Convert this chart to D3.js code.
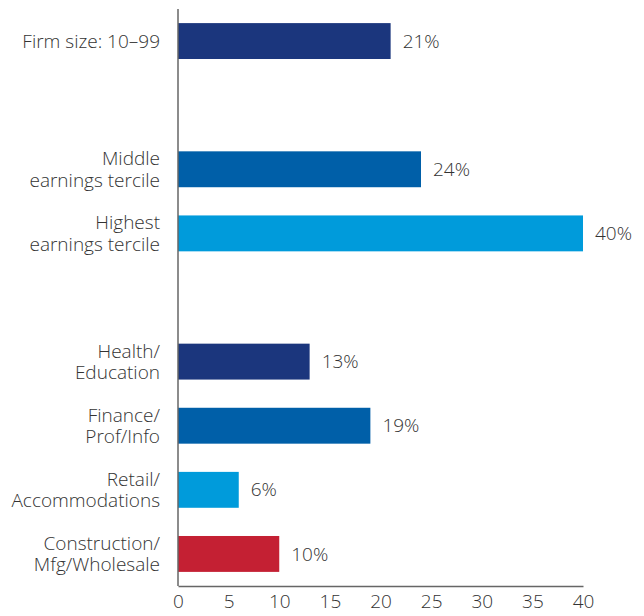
<!DOCTYPE html>
<html>
<head>
<meta charset="utf-8">
<script src="https://cdn.jsdelivr.net/npm/d3@7"></script>
<style>
  html, body { margin: 0; padding: 0; background: #fff; }
  svg text { font-family: "Open Sans", "Noto Sans", sans-serif; font-weight: 300; fill: #333; }
</style>
</head>
<body>
<div id="chart"></div>
<script>
"use strict";

// rows, top to bottom; "gap" rows are empty slots between groups
var rows = ["firm", "gap1", "mid", "high", "gap2", "health", "finance", "retail", "constr"];
var categories = ["firm", "mid", "high", "health", "finance", "retail", "constr"];
var labels = [
    ["Firm size: 10–99"],
    ["Middle", "earnings tercile"],
    ["Highest", "earnings tercile"],
    ["Health/", "Education"],
    ["Finance/", "Prof/Info"],
    ["Retail/", "Accommodations"],
    ["Construction/", "Mfg/Wholesale"]
];
var values = [21, 24, 40, 13, 19, 6, 10];
var barColors = ["#1b367d", "#005fa8", "#009bdb", "#1b367d", "#005fa8", "#009bdb", "#c42033"];
var xTicks = [0, 5, 10, 15, 20, 25, 30, 35, 40];

var width = 644, height = 616;
var x0 = 178, x1 = 583, yTop = 9, yBottom = 586;
var fontSize = "19px";

var data = categories.map(function (c, i) {
    return { key: c, label: labels[i], value: values[i], color: barColors[i] };
});

var svg = d3.select("#chart").append("svg")
    .attr("width", width)
    .attr("height", height);

var x = d3.scaleLinear().domain([0, 40]).range([x0, x1]);
var y = d3.scaleBand().domain(rows).range([yTop, yBottom])
    .paddingInner(0.44).paddingOuter(0.22);

// bars
svg.append("g").selectAll("rect")
    .data(data)
    .enter().append("rect")
    .attr("x", x(0))
    .attr("y", function (d) { return y(d.key); })
    .attr("width", function (d) { return x(d.value) - x(0); })
    .attr("height", y.bandwidth())
    .attr("fill", function (d) { return d.color; });

// value labels
svg.append("g").selectAll("text")
    .data(data)
    .enter().append("text")
    .attr("x", function (d) { return x(d.value) + 12; })
    .attr("y", function (d) { return y(d.key) + y.bandwidth() / 2; })
    .attr("dy", "0.35em")
    .style("font-size", fontSize)
    .text(function (d) { return d.value + "%"; });

// category labels
var lineH = 21.5;
var cat = svg.append("g").selectAll("text")
    .data(data)
    .enter().append("text")
    .attr("text-anchor", "end")
    .style("font-size", fontSize)
    .attr("y", function (d) { return y(d.key) + y.bandwidth() / 2; });

cat.selectAll("tspan")
    .data(function (d) { return d.label.map(function (t, i) { return { t: t, i: i, n: d.label.length }; }); })
    .enter().append("tspan")
    .attr("x", x0 - 18)
    .attr("dy", function (d) {
        if (d.i > 0) return lineH + "px";
        return (-(d.n - 1) * lineH / 2 + 6.7) + "px";
    })
    .text(function (d) { return d.t; });

// x axis
var xAxis = svg.append("g")
    .attr("transform", "translate(0," + yBottom + ")")
    .call(d3.axisBottom(x).tickValues(xTicks).tickSize(0).tickPadding(9).tickFormat(d3.format("d")));
xAxis.select(".domain").attr("stroke", "#666").attr("stroke-width", 1.5);
xAxis.selectAll("text")
    .style("font-size", fontSize)
    .style("font-family", null)
    .attr("fill", null);

// y axis line
svg.append("line")
    .attr("x1", x0).attr("x2", x0)
    .attr("y1", yTop).attr("y2", yBottom)
    .attr("stroke", "#666")
    .attr("stroke-width", 1.5);
</script>
</body>
</html>
